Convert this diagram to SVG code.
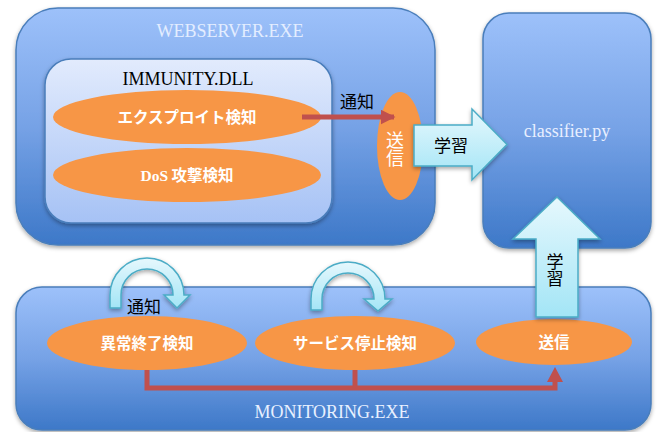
<svg xmlns="http://www.w3.org/2000/svg" width="659" height="432" viewBox="0 0 659 432">
<defs>
<linearGradient id="gBlue" x1="0" y1="0" x2="0" y2="1">
<stop offset="0" stop-color="#9dc1fa"/>
<stop offset="0.5" stop-color="#76a2e6"/>
<stop offset="1" stop-color="#3d78c8"/>
</linearGradient>
<linearGradient id="gLight" x1="0" y1="0" x2="0" y2="1">
<stop offset="0" stop-color="#e2ebfd"/>
<stop offset="1" stop-color="#a6c2f5"/>
</linearGradient>
<linearGradient id="gCyan" x1="0" y1="0" x2="0" y2="1">
<stop offset="0" stop-color="#e6f8fd"/>
<stop offset="1" stop-color="#a3e5f6"/>
</linearGradient>
<filter id="sh" x="-10%" y="-10%" width="120%" height="125%">
<feDropShadow dx="0" dy="2" stdDeviation="2" flood-color="#000" flood-opacity="0.35"/>
</filter>
<marker id="mRed" viewBox="0 0 10 10" refX="9" refY="5" markerWidth="3" markerHeight="3" orient="auto" markerUnits="strokeWidth">
<path d="M0,0 L10,5 L0,10 Z" fill="#c0504d"/>
</marker>
</defs>
<style>
.box{fill:url(#gBlue);stroke:#4a7ebb;stroke-width:1.5;filter:url(#sh)}
.inner{fill:url(#gLight);stroke:#4a7ebb;stroke-width:1.5;filter:url(#sh)}
.ell{fill:#f79646;stroke:none}
.cyan{fill:url(#gCyan);stroke:#4bacc6;stroke-width:1.5;filter:url(#sh)}
.red{fill:none;stroke:#c0504d;stroke-width:5;stroke-linejoin:miter}
.ttl{font-family:"Liberation Serif","Noto Sans CJK JP",serif;font-size:18px;text-anchor:middle}
.wt{font-family:"Noto Sans CJK JP","Noto Sans",sans-serif;font-size:15.5px;fill:#fff;font-weight:bold;text-anchor:middle}
.wv{font-family:"Noto Sans CJK JP","Noto Sans",sans-serif;font-size:18px;fill:#fff;font-weight:normal;text-anchor:middle}
.bk{font-family:"Noto Sans CJK JP","Noto Sans",sans-serif;font-size:17px;fill:#000;text-anchor:middle}
.vt{writing-mode:vertical-rl;text-anchor:middle}
</style>

<g id="webserver">
<rect class="box" x="16" y="8" width="419" height="237" rx="42"/>
<text class="ttl" x="230" y="37" fill="#e3edff">WEBSERVER.EXE</text>
</g>

<g id="immunity">
<rect class="inner" x="45" y="59" width="287" height="164" rx="26"/>
<text class="ttl" x="188" y="85" fill="#000">IMMUNITY.DLL</text>
</g>

<g id="exploit">
<ellipse class="ell" cx="187" cy="117" rx="134" ry="27"/>
<text class="wt" x="187" y="123">エクスプロイト検知</text>
</g>

<g id="dos">
<ellipse class="ell" cx="187" cy="175" rx="134" ry="27"/>
<text class="wt" x="187" y="181"><tspan font-family="Liberation Serif,serif">DoS</tspan> 攻撃検知</text>
</g>

<g id="send-web">
<ellipse class="ell" cx="400" cy="146" rx="23" ry="54"/>
<text class="wv vt" x="395" y="149">送信</text>
</g>

<g id="classifier">
<rect class="box" x="483" y="13" width="168" height="235" rx="26"/>
<text class="ttl" x="567" y="137" fill="#e8efff">classifier.py</text>
</g>

<g id="monitoring">
<rect class="box" x="16" y="287" width="635" height="143" rx="26"/>
<text class="ttl" x="332" y="418" fill="#e8f0ff">MONITORING.EXE</text>
</g>

<g id="abnormal">
<ellipse class="ell" cx="147" cy="343" rx="100" ry="27"/>
<text class="wt" x="147" y="349">異常終了検知</text>
</g>

<g id="service">
<ellipse class="ell" cx="355" cy="343" rx="100" ry="27"/>
<text class="wt" x="355" y="349">サービス停止検知</text>
</g>

<g id="send-mon">
<ellipse class="ell" cx="554" cy="342" rx="78" ry="23"/>
<text class="wt" x="554" y="348">送信</text>
</g>

<g id="connectors">
<line class="red" x1="302" y1="117" x2="394" y2="117" marker-end="url(#mRed)"/>
<text class="bk" x="357" y="108">通知</text>

<path class="cyan" d="M414,125 L472,125 L472,109 L507,144.5 L472,180 L472,166 L414,166 Z"/>
<text class="bk" x="451" y="152">学習</text>

<path class="cyan" d="M557,197 L600,239 L578,239 L578,317 L536,317 L536,239 L513,239 Z"/>
<text class="bk vt" x="555" y="270" font-size="18">学習</text>

<path class="cyan" d="M110,308 L110,295 A37,37 0 0 1 184,295 L190,295 L177,308 L164,295 L173,295 A26,26 0 0 0 121,295 L121,308 Z"/>
<text class="bk" x="144" y="313">通知</text>

<path class="cyan" d="M311,310 L311,299 A37,37 0 0 1 385,299 L392,299 L378,311 L364,299 L374,299 A26,26 0 0 0 322,299 L322,310 Z"/>

<path class="red" d="M147,370 L147,388 L555,388 L555,378"/>
<path class="red" d="M355,370 L355,388"/>
<path d="M547,382 L555,367 L563,382 Z" fill="#c0504d"/>
</g>
</svg>
